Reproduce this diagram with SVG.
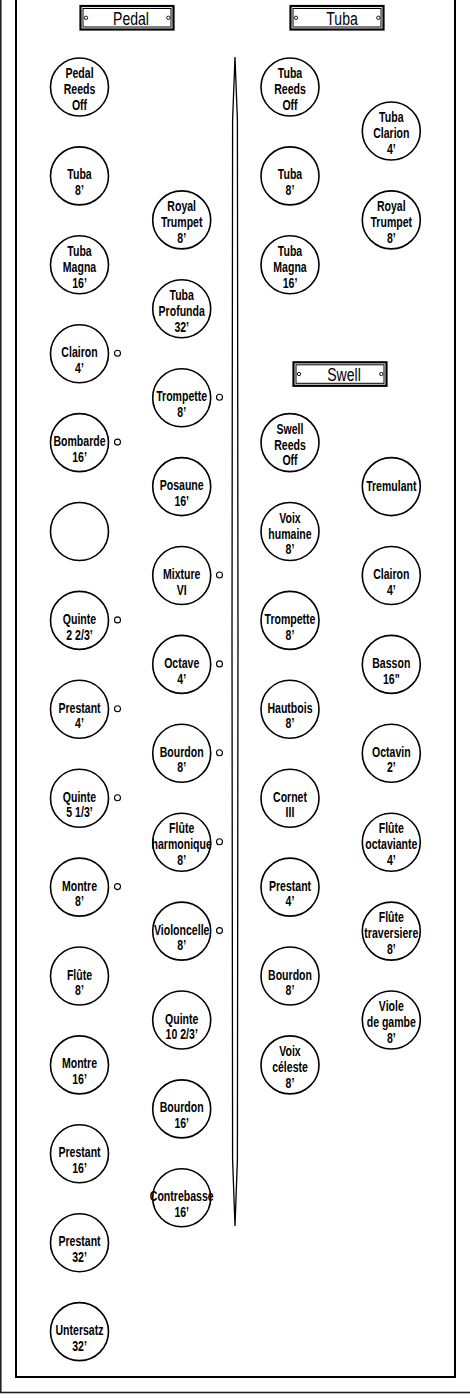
<svg xmlns="http://www.w3.org/2000/svg" width="470" height="1399" viewBox="0 0 470 1399">
<style>
.n circle{fill:#fff;stroke:#000;stroke-width:1.6}
.n text{font-family:"Liberation Sans",Arial,sans-serif;font-size:15.5px;font-weight:bold;text-anchor:middle;fill:#000}
.ind{fill:#fff;stroke:#000;stroke-width:1.1}
.hb{fill:#fff;stroke:#000;stroke-width:2.2}
.hi{fill:none;stroke:#000;stroke-width:1}
.hd{fill:#fff;stroke:#000;stroke-width:0.9}
.ht{font-family:"Liberation Sans",Arial,sans-serif;font-size:18.5px;text-anchor:middle;fill:#000}
</style>
<rect x="0" y="0" width="470" height="1399" fill="#fff"/>
<rect x="0.8" y="-10" width="480" height="1402.5" fill="none" stroke="#222" stroke-width="1.6"/>
<rect x="16" y="-10" width="439" height="1387" fill="none" stroke="#000" stroke-width="2"/>

<g id="connectors">
<polygon points="235,57 237.4,120 238,640 237.4,1160 235,1226 232.6,1160 232,640 232.6,120" fill="#fff" stroke="#000" stroke-width="1.3"/>
</g>

<g id="hdr-pedal">
<rect class="hb" x="80.5" y="6" width="93" height="23.5"/>
<rect class="hi" x="83" y="8.5" width="88" height="18.5"/>
<circle class="hd" cx="86" cy="17.8" r="1.7"/>
<circle class="hd" cx="168.3" cy="17.8" r="1.7"/>
<text class="ht" transform="translate(131,25) scale(0.76 1)">Pedal</text>
</g>
<g id="hdr-tuba">
<rect class="hb" x="290.5" y="6" width="93" height="23.5"/>
<rect class="hi" x="293" y="8.5" width="88" height="18.5"/>
<circle class="hd" cx="296" cy="17.8" r="1.7"/>
<circle class="hd" cx="378.3" cy="17.8" r="1.7"/>
<text class="ht" transform="translate(342,25) scale(0.76 1)">Tuba</text>
</g>
<g id="hdr-swell">
<rect class="hb" x="293.5" y="362.3" width="93" height="23.5"/>
<rect class="hi" x="296" y="364.8" width="88" height="18.5"/>
<circle class="hd" cx="299" cy="374" r="1.7"/>
<circle class="hd" cx="381.3" cy="374" r="1.7"/>
<text class="ht" transform="translate(344,381.3) scale(0.76 1)">Swell</text>
</g>

<g id="indicators">
<circle class="ind" cx="117.5" cy="353.2" r="3"/>
<circle class="ind" cx="117.5" cy="442.1" r="3"/>
<circle class="ind" cx="117.5" cy="619.9" r="3"/>
<circle class="ind" cx="117.5" cy="708.8" r="3"/>
<circle class="ind" cx="117.5" cy="797.7" r="3"/>
<circle class="ind" cx="117.5" cy="886.6" r="3"/>
<circle class="ind" cx="219.5" cy="397.2" r="3"/>
<circle class="ind" cx="219.5" cy="575" r="3"/>
<circle class="ind" cx="219.5" cy="663.9" r="3"/>
<circle class="ind" cx="219.5" cy="752.8" r="3"/>
<circle class="ind" cx="219.5" cy="841.7" r="3"/>
<circle class="ind" cx="219.5" cy="930.6" r="3"/>
</g>

<!-- Column A -->
<g id="a00" class="n" transform="translate(79.5,87)"><circle r="29"/><g transform="scale(0.68 1)"><text y="-8.8">Pedal</text><text y="7">Reeds</text><text y="22.8">Off</text></g></g>
<g id="a01" class="n" transform="translate(79.5,175.9)"><circle r="29"/><g transform="scale(0.68 1)"><text y="3.5">Tuba</text><text y="19.2">8’</text></g></g>
<g id="a02" class="n" transform="translate(79.5,264.8)"><circle r="29"/><g transform="scale(0.68 1)"><text y="-8.8">Tuba</text><text y="7">Magna</text><text y="22.8">16’</text></g></g>
<g id="a03" class="n" transform="translate(79.5,353.7)"><circle r="29"/><g transform="scale(0.68 1)"><text y="3.5">Clairon</text><text y="19.2">4’</text></g></g>
<g id="a04" class="n" transform="translate(79.5,442.6)"><circle r="29"/><g transform="scale(0.68 1)"><text y="3.5">Bombarde</text><text y="19.2">16’</text></g></g>
<g id="a05" class="n" transform="translate(79.5,531.5)"><circle r="29"/></g>
<g id="a06" class="n" transform="translate(79.5,620.4)"><circle r="29"/><g transform="scale(0.68 1)"><text y="3.5">Quinte</text><text y="19.2">2 2/3’</text></g></g>
<g id="a07" class="n" transform="translate(79.5,709.3)"><circle r="29"/><g transform="scale(0.68 1)"><text y="3.5">Prestant</text><text y="19.2">4’</text></g></g>
<g id="a08" class="n" transform="translate(79.5,798.2)"><circle r="29"/><g transform="scale(0.68 1)"><text y="3.5">Quinte</text><text y="19.2">5 1/3’</text></g></g>
<g id="a09" class="n" transform="translate(79.5,887.1)"><circle r="29"/><g transform="scale(0.68 1)"><text y="3.5">Montre</text><text y="19.2">8’</text></g></g>
<g id="a10" class="n" transform="translate(79.5,976)"><circle r="29"/><g transform="scale(0.68 1)"><text y="3.5">Flûte</text><text y="19.2">8’</text></g></g>
<g id="a11" class="n" transform="translate(79.5,1064.9)"><circle r="29"/><g transform="scale(0.68 1)"><text y="3.5">Montre</text><text y="19.2">16’</text></g></g>
<g id="a12" class="n" transform="translate(79.5,1153.8)"><circle r="29"/><g transform="scale(0.68 1)"><text y="3.5">Prestant</text><text y="19.2">16’</text></g></g>
<g id="a13" class="n" transform="translate(79.5,1242.7)"><circle r="29"/><g transform="scale(0.68 1)"><text y="3.5">Prestant</text><text y="19.2">32’</text></g></g>
<g id="a14" class="n" transform="translate(79.5,1331.6)"><circle r="29"/><g transform="scale(0.68 1)"><text y="3.5">Untersatz</text><text y="19.2">32’</text></g></g>

<!-- Column B -->
<g id="b01" class="n" transform="translate(181.7,219.9)"><circle r="29"/><g transform="scale(0.68 1)"><text y="-8.8">Royal</text><text y="7">Trumpet</text><text y="22.8">8’</text></g></g>
<g id="b02" class="n" transform="translate(181.7,308.8)"><circle r="29"/><g transform="scale(0.68 1)"><text y="-8.8">Tuba</text><text y="7">Profunda</text><text y="22.8">32’</text></g></g>
<g id="b03" class="n" transform="translate(181.7,397.7)"><circle r="29"/><g transform="scale(0.68 1)"><text y="3.5">Trompette</text><text y="19.2">8’</text></g></g>
<g id="b04" class="n" transform="translate(181.7,486.6)"><circle r="29"/><g transform="scale(0.68 1)"><text y="3.5">Posaune</text><text y="19.2">16’</text></g></g>
<g id="b05" class="n" transform="translate(181.7,575.5)"><circle r="29"/><g transform="scale(0.68 1)"><text y="3.5">Mixture</text><text y="19.2">VI</text></g></g>
<g id="b06" class="n" transform="translate(181.7,664.4)"><circle r="29"/><g transform="scale(0.68 1)"><text y="3.5">Octave</text><text y="19.2">4’</text></g></g>
<g id="b07" class="n" transform="translate(181.7,753.3)"><circle r="29"/><g transform="scale(0.68 1)"><text y="3.5">Bourdon</text><text y="19.2">8’</text></g></g>
<g id="b08" class="n" transform="translate(181.7,842.2)"><circle r="29"/><g transform="scale(0.68 1)"><text y="-8.8">Flûte</text><text y="7">harmonique</text><text y="22.8">8’</text></g></g>
<g id="b09" class="n" transform="translate(181.7,931.1)"><circle r="29"/><g transform="scale(0.68 1)"><text y="3.5">Violoncelle</text><text y="19.2">8’</text></g></g>
<g id="b10" class="n" transform="translate(181.7,1020)"><circle r="29"/><g transform="scale(0.68 1)"><text y="3.5">Quinte</text><text y="19.2">10 2/3’</text></g></g>
<g id="b11" class="n" transform="translate(181.7,1108.9)"><circle r="29"/><g transform="scale(0.68 1)"><text y="3.5">Bourdon</text><text y="19.2">16’</text></g></g>
<g id="b12" class="n" transform="translate(181.7,1197.8)"><circle r="29"/><g transform="scale(0.68 1)"><text y="3.5">Contrebasse</text><text y="19.2">16’</text></g></g>

<!-- Column C -->
<g id="c00" class="n" transform="translate(290,87)"><circle r="29"/><g transform="scale(0.68 1)"><text y="-8.8">Tuba</text><text y="7">Reeds</text><text y="22.8">Off</text></g></g>
<g id="c01" class="n" transform="translate(290,175.9)"><circle r="29"/><g transform="scale(0.68 1)"><text y="3.5">Tuba</text><text y="19.2">8’</text></g></g>
<g id="c02" class="n" transform="translate(290,264.8)"><circle r="29"/><g transform="scale(0.68 1)"><text y="-8.8">Tuba</text><text y="7">Magna</text><text y="22.8">16’</text></g></g>
<g id="c04" class="n" transform="translate(290,442.6)"><circle r="29"/><g transform="scale(0.68 1)"><text y="-8.8">Swell</text><text y="7">Reeds</text><text y="22.8">Off</text></g></g>
<g id="c05" class="n" transform="translate(290,531.5)"><circle r="29"/><g transform="scale(0.68 1)"><text y="-8.8">Voix</text><text y="7">humaine</text><text y="22.8">8’</text></g></g>
<g id="c06" class="n" transform="translate(290,620.4)"><circle r="29"/><g transform="scale(0.68 1)"><text y="3.5">Trompette</text><text y="19.2">8’</text></g></g>
<g id="c07" class="n" transform="translate(290,709.3)"><circle r="29"/><g transform="scale(0.68 1)"><text y="3.5">Hautbois</text><text y="19.2">8’</text></g></g>
<g id="c08" class="n" transform="translate(290,798.2)"><circle r="29"/><g transform="scale(0.68 1)"><text y="3.5">Cornet</text><text y="19.2">III</text></g></g>
<g id="c09" class="n" transform="translate(290,887.1)"><circle r="29"/><g transform="scale(0.68 1)"><text y="3.5">Prestant</text><text y="19.2">4’</text></g></g>
<g id="c10" class="n" transform="translate(290,976)"><circle r="29"/><g transform="scale(0.68 1)"><text y="3.5">Bourdon</text><text y="19.2">8’</text></g></g>
<g id="c11" class="n" transform="translate(290,1064.9)"><circle r="29"/><g transform="scale(0.68 1)"><text y="-8.8">Voix</text><text y="7">céleste</text><text y="22.8">8’</text></g></g>

<!-- Column D -->
<g id="d00" class="n" transform="translate(391.3,131)"><circle r="29"/><g transform="scale(0.68 1)"><text y="-8.8">Tuba</text><text y="7">Clarion</text><text y="22.8">4’</text></g></g>
<g id="d01" class="n" transform="translate(391.3,219.9)"><circle r="29"/><g transform="scale(0.68 1)"><text y="-8.8">Royal</text><text y="7">Trumpet</text><text y="22.8">8’</text></g></g>
<g id="d04" class="n" transform="translate(391.3,486.6)"><circle r="29"/><g transform="scale(0.68 1)"><text y="4.5">Tremulant</text></g></g>
<g id="d05" class="n" transform="translate(391.3,575.5)"><circle r="29"/><g transform="scale(0.68 1)"><text y="3.5">Clairon</text><text y="19.2">4’</text></g></g>
<g id="d06" class="n" transform="translate(391.3,664.4)"><circle r="29"/><g transform="scale(0.68 1)"><text y="3.5">Basson</text><text y="19.2">16"</text></g></g>
<g id="d07" class="n" transform="translate(391.3,753.3)"><circle r="29"/><g transform="scale(0.68 1)"><text y="3.5">Octavin</text><text y="19.2">2’</text></g></g>
<g id="d08" class="n" transform="translate(391.3,842.2)"><circle r="29"/><g transform="scale(0.68 1)"><text y="-8.8">Flûte</text><text y="7">octaviante</text><text y="22.8">4’</text></g></g>
<g id="d09" class="n" transform="translate(391.3,931.1)"><circle r="29"/><g transform="scale(0.68 1)"><text y="-8.8">Flûte</text><text y="7">traversiere</text><text y="22.8">8’</text></g></g>
<g id="d10" class="n" transform="translate(391.3,1020)"><circle r="29"/><g transform="scale(0.68 1)"><text y="-8.8">Viole</text><text y="7">de gambe</text><text y="22.8">8’</text></g></g>
</svg>
